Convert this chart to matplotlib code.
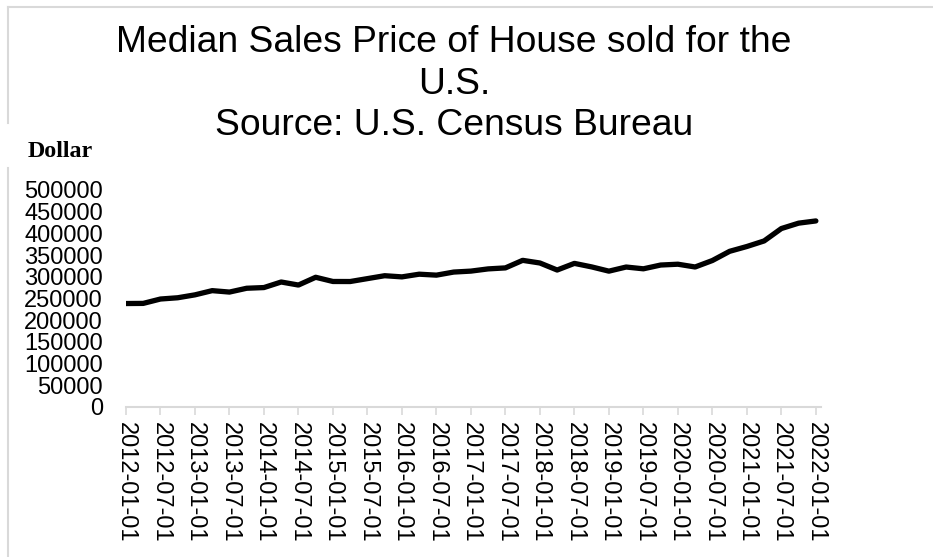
import matplotlib.pyplot as plt
from matplotlib.lines import Line2D

# ── Data: median sales price of houses sold, quarterly ─────────────────────
quarters = [
    "2012-01-01", "2012-04-01", "2012-07-01", "2012-10-01",
    "2013-01-01", "2013-04-01", "2013-07-01", "2013-10-01",
    "2014-01-01", "2014-04-01", "2014-07-01", "2014-10-01",
    "2015-01-01", "2015-04-01", "2015-07-01", "2015-10-01",
    "2016-01-01", "2016-04-01", "2016-07-01", "2016-10-01",
    "2017-01-01", "2017-04-01", "2017-07-01", "2017-10-01",
    "2018-01-01", "2018-04-01", "2018-07-01", "2018-10-01",
    "2019-01-01", "2019-04-01", "2019-07-01", "2019-10-01",
    "2020-01-01", "2020-04-01", "2020-07-01", "2020-10-01",
    "2021-01-01", "2021-04-01", "2021-07-01", "2021-10-01",
    "2022-01-01",
]
prices = [
    238400, 238700, 248800, 251700,
    258400, 268100, 264800, 273600,
    275200, 288000, 281000, 298900,
    289200, 289100, 295800, 302500,
    299800, 306000, 303800, 310900,
    313100, 318200, 320500, 337900,
    331800, 315600, 330900, 322800,
    313000, 322500, 318400, 327100,
    329000, 322600, 337500, 358700,
    369800, 382600, 411200, 423600,
    428700,
]
y_ticks = list(range(0, 500001, 50000))

SANS = ["Liberation Sans", "DejaVu Sans"]
GRID_GREY = "#d9d9d9"

# ── Figure ─────────────────────────────────────────────────────────────────
fig = plt.figure(figsize=(9.33, 5.57), dpi=100)
ax = fig.add_axes([0.1350, 0.2693, 0.7450, 0.3896])

x = list(range(len(quarters)))
ax.plot(x, prices, color="black", linewidth=3.8, solid_capstyle="round",
        solid_joinstyle="round")

ax.set_xlim(0, 40.3)
ax.set_ylim(0, 500000)

tick_pos = x[::2]
ax.set_xticks(tick_pos)
ax.set_xticklabels(quarters[::2], rotation=-90, family=SANS, fontsize=17,
                   ha="center", va="top")
ax.set_yticks(y_ticks)
ax.set_yticklabels([str(v) for v in y_ticks], family=SANS, fontsize=17)

ax.tick_params(axis="x", length=6, width=1.2, color=GRID_GREY, pad=5)
ax.tick_params(axis="y", length=0, pad=16.5)

for side in ("top", "right", "left"):
    ax.spines[side].set_visible(False)
ax.spines["bottom"].set_color(GRID_GREY)
ax.spines["bottom"].set_linewidth(1.5)

# ── Titles ─────────────────────────────────────────────────────────────────
fig.text(454 / 933, 1 - 52 / 557,
         "Median Sales Price of House sold for the", family=SANS,
         fontsize=26.8, ha="center", va="baseline")
fig.text(454 / 933, 1 - 94 / 557, "U.S.", family=SANS,
         fontsize=26.8, ha="center", va="baseline")
fig.text(454 / 933, 1 - 135 / 557, "Source: U.S. Census Bureau", family=SANS,
         fontsize=26.8, ha="center", va="baseline")
fig.text(28 / 933, 1 - 157 / 557, "Dollar", family=["Liberation Serif", "DejaVu Serif"],
         fontweight="bold", fontsize=17.3, ha="left", va="baseline")

# light frame on top and left edges
fig.add_artist(Line2D([8 / 933, 1.0], [1 - 7 / 557, 1 - 7 / 557],
                      transform=fig.transFigure, color=GRID_GREY, linewidth=1.5))
fig.add_artist(Line2D([8 / 933, 8 / 933], [1 - 7 / 557, 1 - 123 / 557],
                      transform=fig.transFigure, color=GRID_GREY, linewidth=1.5))
fig.add_artist(Line2D([8 / 933, 8 / 933], [1 - 168 / 557, 0.0],
                      transform=fig.transFigure, color=GRID_GREY, linewidth=1.5))

fig.savefig("out.png", dpi=100)
